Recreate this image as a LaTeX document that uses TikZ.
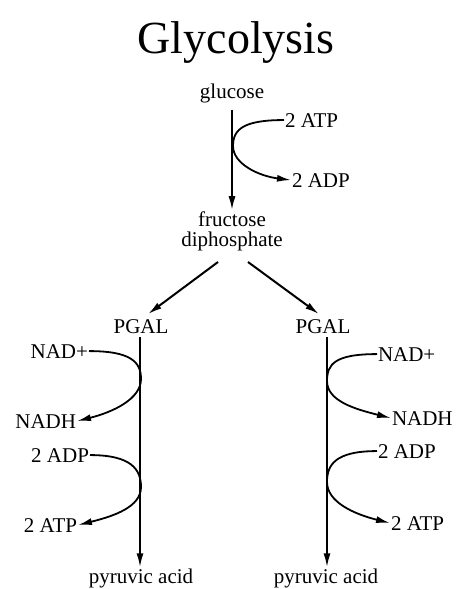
\documentclass[tikz,border=0pt]{standalone}
\usepackage{fontspec}
\setmainfont{Liberation Serif}
\usetikzlibrary{arrows.meta}
\begin{document}
\begin{tikzpicture}[x=1pt,y=-1pt,
  lbl/.style={inner sep=1pt,outer sep=0pt,font=\fontsize{21}{23}\selectfont},
  flow/.style={line width=2pt,-{Latex[length=14pt,width=7pt]}},
  side/.style={line width=1.8pt,-{Latex[length=14pt,width=7pt]}}]
  % canvas
  \fill[white] (0,0) rectangle (456,589);
  \useasboundingbox (0,0) rectangle (456,589);

  % title
  \node[inner sep=0pt,anchor=base,font=\fontsize{46}{50}\selectfont] (title) at (236,53) {Glycolysis};

  % glucose -> fructose diphosphate
  \node[lbl,anchor=base] (glu) at (232,98) {glucose};
  \node[lbl,anchor=base] (fru) at (232,226) {fructose};
  \node[lbl,anchor=base] (dip) at (232,246) {diphosphate};
  \node[lbl,anchor=base west] (atpA) at (284,127) {2 ATP};
  \node[lbl,anchor=base west] (adpA) at (291,187) {2 ADP};
  \coordinate (tA) at (233,146);
  \draw[flow] (glu.south) ++(0,6) -- (fru.north);
  \draw[side] (atpA.west) .. controls +(-40,0) and +(0,-17) .. (tA)
              .. controls +(0,18) and +(-32,-4) .. (adpA.west);

  % split into two PGAL
  \node[lbl,anchor=base] (pgL) at (141,333) {PGAL};
  \node[lbl,anchor=base] (pgR) at (323,333) {PGAL};
  \coordinate (dL) at (218,262);
  \coordinate (dR) at (248,262);
  \draw[flow] (dL) -- ([shift={(7,-4)}]pgL.north);
  \draw[flow] (dR) -- ([shift={(-4,-4)}]pgR.north);

  % left branch
  \node[lbl,anchor=base] (pyL) at (141,583) {pyruvic acid};
  \draw[flow] (pgL.south) ++(-1,3) -- ([xshift=-1pt]pyL.north);
  \node[lbl,anchor=base east] (nadL) at (89,358) {NAD+};
  \node[lbl,anchor=base east] (nadhL) at (77,428) {NADH};
  \node[lbl,anchor=base east] (adpL) at (90,462) {2 ADP};
  \node[lbl,anchor=base east] (atpL) at (78,532) {2 ATP};
  \coordinate (tL1) at (141,379);
  \coordinate (tL2) at (141,487);
  \draw[side] (nadL.east) .. controls +(42,0) and +(0,-17) .. (tL1)
              .. controls +(0,20) and +(36,-9) .. (nadhL.east);
  \draw[side] (adpL.east) .. controls +(42,0) and +(0,-17) .. (tL2)
              .. controls +(0,20) and +(36,-9) .. (atpL.east);

  % right branch
  \node[lbl,anchor=base] (pyR) at (326,583) {pyruvic acid};
  \draw[flow] (pgR.south) ++(4,3) -- ([xshift=1pt]pyR.north);
  \node[lbl,anchor=base west] (nadR) at (377,361) {NAD+};
  \node[lbl,anchor=base west] (nadhR) at (391,425) {NADH};
  \node[lbl,anchor=base west] (adpR) at (377,458) {2 ADP};
  \node[lbl,anchor=base west] (atpR) at (390,530) {2 ATP};
  \coordinate (tR1) at (327,381);
  \coordinate (tR2) at (327,482);
  \draw[side] (nadR.west) .. controls +(-42,0) and +(0,-17) .. (tR1)
              .. controls +(0,20) and +(-36,-9) .. (nadhR.west);
  \draw[side] (adpR.west) .. controls +(-42,0) and +(0,-17) .. (tR2)
              .. controls +(0,20) and +(-36,-9) .. (atpR.west);
\end{tikzpicture}
\end{document}
